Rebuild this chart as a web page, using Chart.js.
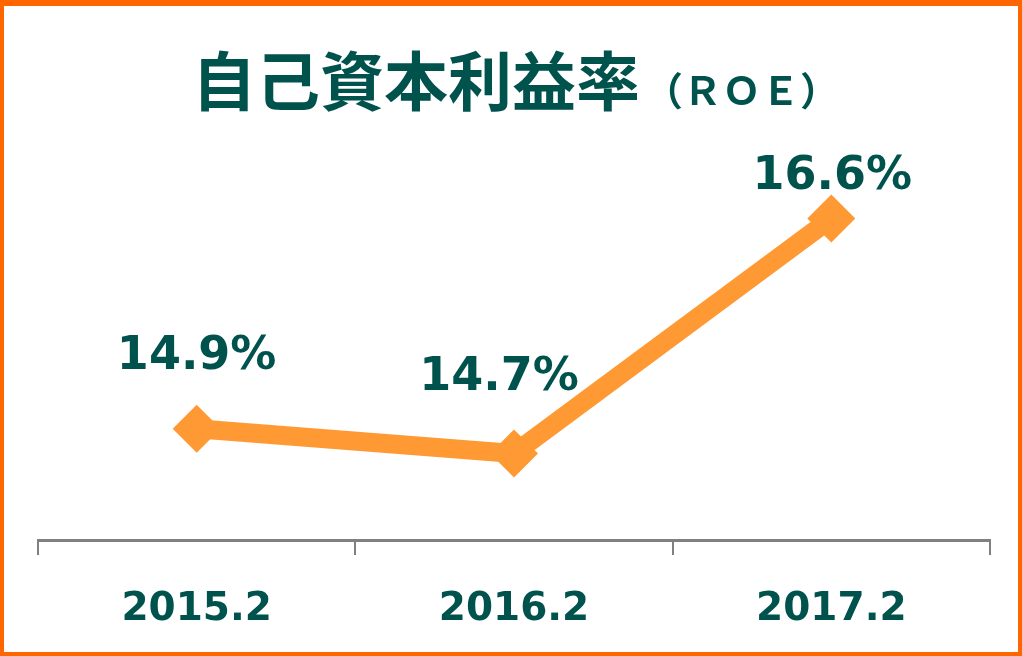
<!DOCTYPE html>
<html lang="ja">
<head>
<meta charset="utf-8">
<script src="https://cdn.jsdelivr.net/npm/chart.js@4"></script>
<style>
    html, body { margin: 0; padding: 0; background: #ffffff; }
    #wrap { position: relative; width: 1022px; height: 656px; overflow: hidden; }
    #chart { position: absolute; left: 0; top: 0; }
    #frame {
        position: absolute; left: 0; top: 0; width: 1022px; height: 656px;
        box-sizing: border-box; border: 4px solid #ff6600; border-top-width: 6px;
        pointer-events: none;
    }
    #title {
        position: absolute; left: 192px; top: 45px; white-space: nowrap;
        color: #00524c; font-family: "Noto Sans CJK JP", sans-serif; font-weight: 700;
        line-height: 1;
    }
    #title .main { font-size: 64px; }
    #title .sub { font-size: 39px; margin-left: 4px; }
</style>
</head>
<body>
<div id="wrap">
    <canvas id="chart" width="1022" height="656"></canvas>
    <div id="title"><span class="main">自己資本利益率</span><span class="sub">（ＲＯＥ）</span></div>
    <div id="frame"></div>
</div>
<script>
// Chart data
const categories = ["2015.2", "2016.2", "2017.2"];
const roeValues = [14.9, 14.7, 16.6];

const textColor = "#00524c";
const lineColor = "#ff9933";

// Value labels above each point
const valueLabels = {
    id: "valueLabels",
    afterDatasetsDraw(chart, args, opts) {
        const { ctx } = chart;
        const meta = chart.getDatasetMeta(0);
        ctx.save();
        ctx.font = "bold 46px 'DejaVu Sans', Verdana, sans-serif";
        ctx.fillStyle = textColor;
        ctx.textAlign = "center";
        ctx.textBaseline = "middle";
        meta.data.forEach((pt, i) => {
            const off = opts.offsets[i];
            ctx.fillText(roeValues[i].toFixed(1) + "%", pt.x + off[0], pt.y + off[1]);
        });
        ctx.restore();
    },
};

const ctx = document.getElementById("chart");
new Chart(ctx, {
    type: "line",
    data: {
        labels: categories,
        datasets: [
            {
                data: roeValues,
                borderColor: lineColor,
                backgroundColor: lineColor,
                borderWidth: 19,
                pointStyle: "rectRot",
                pointRadius: 24,
                pointBorderWidth: 0,
                pointBackgroundColor: lineColor,
                tension: 0,
            },
        ],
    },
    options: {
        responsive: false,
        animation: false,
        layout: {
            padding: { left: 38, right: 32, top: 169, bottom: 0 },
        },
        plugins: {
            legend: { display: false },
            tooltip: { enabled: false },
            valueLabels: {
                offsets: [[0, -72], [-15, -75], [1, -41]],
            },
        },
        scales: {
            y: {
                display: false,
                min: 14,
                max: 17,
            },
            x: {
                offset: true,
                afterFit(scale) {
                    scale.height = 116;
                },
                grid: {
                    offset: true,
                    drawOnChartArea: false,
                    drawTicks: true,
                    tickLength: 15,
                    color: "#808080",
                    lineWidth: 2,
                },
                border: {
                    display: true,
                    color: "#808080",
                    width: 3,
                },
                ticks: {
                    color: textColor,
                    padding: 31,
                    font: {
                        family: "'DejaVu Sans', Verdana, sans-serif",
                        size: 39,
                        weight: "bold",
                    },
                },
            },
        },
    },
    plugins: [valueLabels],
});
</script>
</body>
</html>
